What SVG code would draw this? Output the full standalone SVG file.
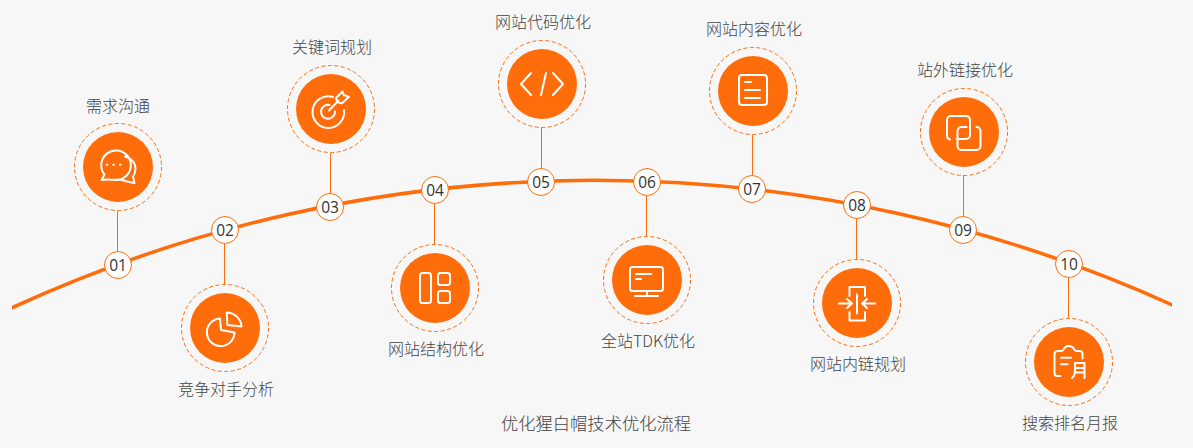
<svg xmlns="http://www.w3.org/2000/svg" width="1193" height="448" viewBox="0 0 1193 448">
<defs><style>
text{font-family:"Noto Sans CJK SC","Noto Sans",sans-serif;text-anchor:middle;font-weight:300}
.lb{font-size:16px;fill:#444}
.tt{font-size:17.3px;fill:#444}
.n{font-family:"Open Sans","Noto Sans",sans-serif;font-size:15.500px;fill:#333;font-weight:400}
.halo{fill:none;stroke:#ff6c0a;stroke-width:1;stroke-dasharray:4 2.500}
.disc{fill:#ff6c0a}
.dot{fill:#fff;stroke:#ff6c0a;stroke-width:1}
.ic{fill:none;stroke:#fff;stroke-width:2;stroke-linecap:round;stroke-linejoin:round}
.ln{fill:none;stroke:#ff6c0a;stroke-width:1}
</style><clipPath id="curve-clip"><rect x="12" y="150" width="1160" height="180"/></clipPath></defs>
<rect width="1193" height="448" fill="#f7f7f7"/>
<g id="connectors">
<path clip-path="url(#curve-clip)" d="M5 311A1398 1398 0 0 1 1179 308" fill="none" stroke="#ff6c0a" stroke-width="3.500"/>
<path class="ln" d="M117.500 211V252M224.500 243V285M330.500 153V194M434.500 203V245M541.500 127V169M646.500 195V237M752.500 135V176M856.500 218V260M963.500 175V217M1068.500 277V319"/>
</g>
<g id="node-01"><circle class="halo" cx="118" cy="167" r="43.500"/><circle class="disc" cx="118" cy="167" r="35"/>
<path class="ic" d="M101.500 180l3-5.500a14.800 14.800 0 1 1 20.500 2.500M101.500 180c5-1 10-.5 15 0c3 .3 6-.8 8.500-3M125 156.500c6 1.500 10.500 6 10.500 12c0 3-1 6-2.500 8l1.500 6.500c-5-.8-10-2-13.500-3.500c-1.500.3-3 .3-4.500 0"/>
<path class="ic" d="M106.700 164.700h.6M113.300 164.700h.6M120 164.700h.6"/>
<circle class="dot" cx="118" cy="265" r="13.500"/><text class="n" x="118" y="270.500">01</text><text class="lb" x="118" y="112">需求沟通</text></g>
<g id="node-02"><circle class="halo" cx="225" cy="328" r="43.500"/><circle class="disc" cx="225" cy="328" r="35"/>
<path class="ic" d="M220 318.500a13.800 13.800 0 1 0 14.500 14l-13.500 -2.500z"/><path class="ic" d="M226.800 312.500a15 15 0 0 1 14.700 14l-14.200 -1.500z"/>
<circle class="dot" cx="225" cy="230" r="13.500"/><text class="n" x="225" y="235.500">02</text><text class="lb" x="226" y="395">竞争对手分析</text></g>
<g id="node-03"><circle class="halo" cx="331" cy="109" r="43.500"/><circle class="disc" cx="331" cy="109" r="35"/>
<path class="ic" d="M333 97a15.800 15.800 0 1 0 11 13M329.500 105a7 7 0 1 0 5.500 6.500M329 110.500l9.500-10"/><path class="ic" d="M336 98l6.500-6.500l1.500 3.800l5 1.500l-7 6.500l-4.500-1z"/>
<circle class="dot" cx="330" cy="207" r="13.500"/><text class="n" x="330" y="212.500">03</text><text class="lb" x="332" y="53">关键词规划</text></g>
<g id="node-04"><circle class="halo" cx="435" cy="288" r="43.500"/><circle class="disc" cx="435" cy="288" r="35"/>
<rect class="ic" x="420" y="273" width="11" height="30" rx="2.500"/><rect class="ic" x="438" y="273" width="12" height="12" rx="2.500"/><rect class="ic" x="438" y="291" width="12" height="12" rx="2.500"/>
<circle class="dot" cx="435" cy="190" r="13.500"/><text class="n" x="435" y="195.500">04</text><text class="lb" x="436" y="355">网站结构优化</text></g>
<g id="node-05"><circle class="halo" cx="542" cy="84" r="43.500"/><circle class="disc" cx="542" cy="84" r="35"/>
<path class="ic" d="M531 73l-10 11l10 11M553 73l10 11l-10 11M546 73l-5 22"/>
<circle class="dot" cx="541" cy="182" r="13.500"/><text class="n" x="541" y="187.500">05</text><text class="lb" x="543" y="28">网站代码优化</text></g>
<g id="node-06"><circle class="halo" cx="647" cy="280" r="43.500"/><circle class="disc" cx="647" cy="280" r="35"/>
<rect class="ic" x="630" y="267" width="33" height="24" rx="2.500"/><path class="ic" d="M636 274h15M636 279h5M647 291v5M635 296h23"/>
<circle class="dot" cx="647" cy="182" r="13.500"/><text class="n" x="647" y="187.500">06</text><text class="lb" x="648" y="347">全站TDK优化</text></g>
<g id="node-07"><circle class="halo" cx="753" cy="91" r="43.500"/><circle class="disc" cx="753" cy="91" r="35"/>
<rect class="ic" x="739" y="75" width="28" height="30" rx="3"/><path class="ic" d="M745 82h6M745 90h15M745 98h15"/>
<circle class="dot" cx="752" cy="189" r="13.500"/><text class="n" x="752" y="194.500">07</text><text class="lb" x="754" y="35">网站内容优化</text></g>
<g id="node-08"><circle class="halo" cx="857" cy="303" r="43.500"/><circle class="disc" cx="857" cy="303" r="35"/>
<path class="ic" d="M849.500 296v-9h15.500v9M849.500 312v8.500h15.500v-8.500M857 294.500v19M839 303.500h13M847 299l5 4.500l-5 4.500M875 303.500h-13M867 299l-5 4.500l5 4.500"/>
<circle class="dot" cx="857" cy="205" r="13.500"/><text class="n" x="857" y="210.500">08</text><text class="lb" x="858" y="370">网站内链规划</text></g>
<g id="node-09"><circle class="halo" cx="964" cy="132" r="43.500"/><circle class="disc" cx="964" cy="132" r="35"/>
<path class="ic" d="M950 139.500a4 4 0 0 1-3-4v-15.500a4 4 0 0 1 4-4h15a4 4 0 0 1 4 4v15a4 4 0 0 1-4 4h-9"/>
<path class="ic" d="M976.500 127a4 4 0 0 1 4 4v15a4 4 0 0 1-4 4h-15a4 4 0 0 1-4-4v-15a4 4 0 0 1 4-4h5"/>
<circle class="dot" cx="963" cy="230" r="13.500"/><text class="n" x="963" y="235.500">09</text><text class="lb" x="965" y="76">站外链接优化</text></g>
<g id="node-10"><circle class="halo" cx="1069" cy="362" r="43.500"/><circle class="disc" cx="1069" cy="362" r="35"/>
<path class="ic" d="M1061 351h-3.500a3 3 0 0 0-3 3v19a3 3 0 0 0 3 3h3M1061 351c1.500 0 2.500-.7 3-2c1.500-4 8-4 10 0c.5 1.300 1.500 2 3 2h2.500a3 3 0 0 1 3 3v4.500M1061 357.700h10M1061 364.300h6.500M1075 363h9.500v15M1075 363v8c0 3-1 5.500-3 7M1075 368h9.500M1075 372.500h9.500"/>
<circle class="dot" cx="1069" cy="264" r="13.500"/><text class="n" x="1069" y="269.500">10</text><text class="lb" x="1070" y="429">搜索排名月报</text></g>
<text class="tt" x="596" y="430">优化猩白帽技术优化流程</text>
</svg>
